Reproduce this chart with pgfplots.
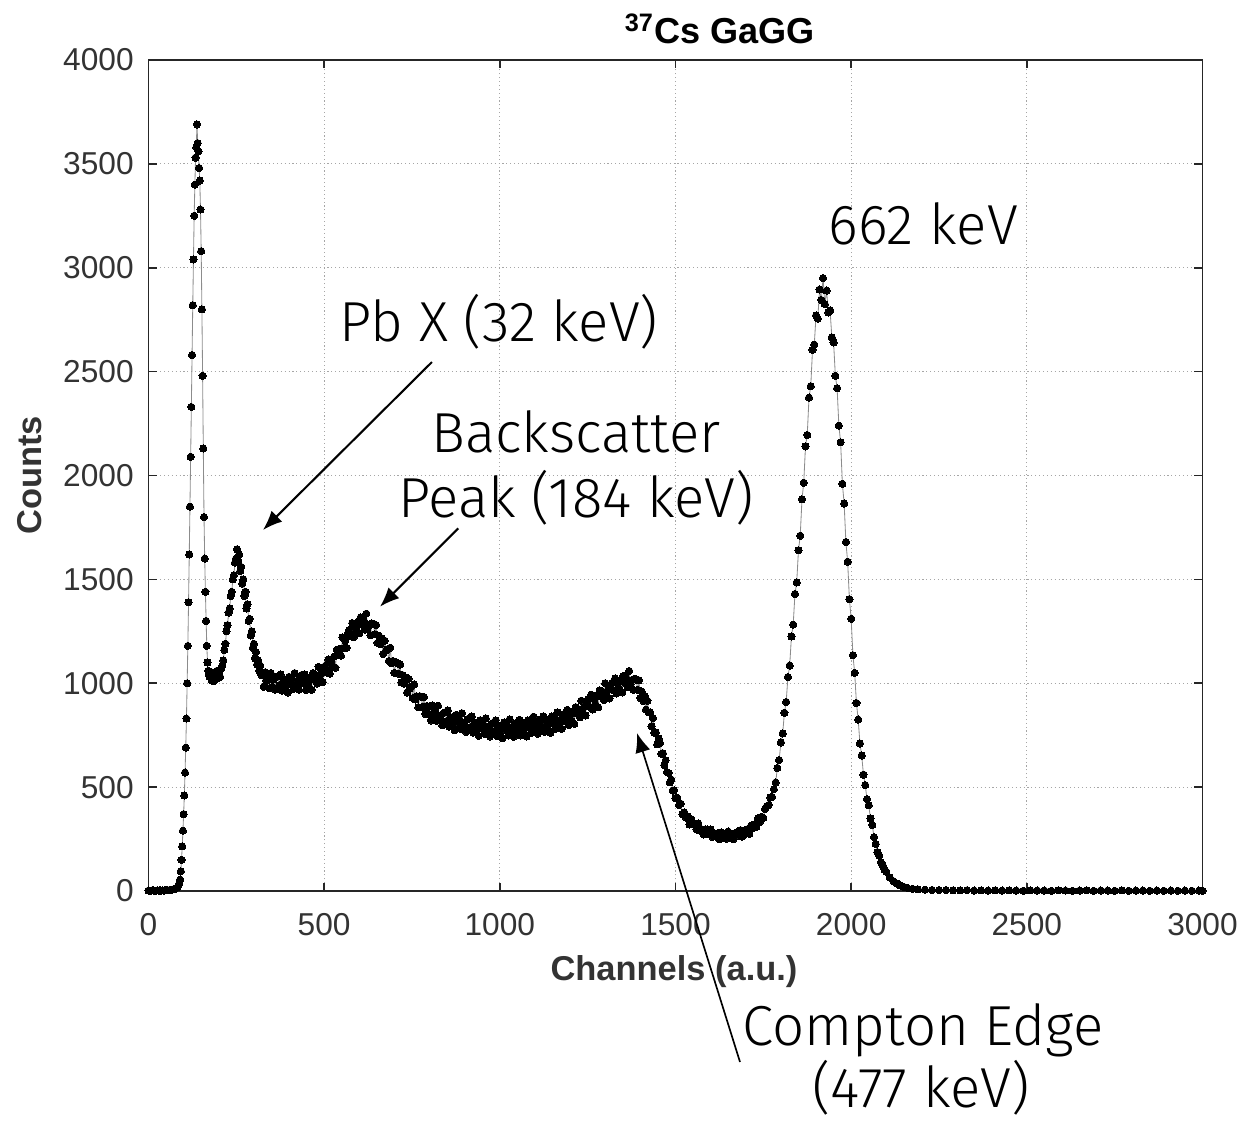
\documentclass[border=0pt]{standalone}
\usepackage{pgfplots}
\pgfplotsset{compat=1.18}
\usepackage{pgfplotstable}
\usepackage{fontspec}
\setmainfont{Liberation Sans}
\newfontfamily\annfont{Fira Sans Light}
\usetikzlibrary{arrows.meta}

\pgfplotstableread{
x y
0 2
5 1
10 3
15 2
20 1
25 3
30 2
35 2
40 3
45 2
50 4
55 3
60 5
65 6
70 8
75 10
80 15
84 22
87 35
90 55
92 95
94 150
96 215
98 290
100 370
102 460
104 570
106 690
108 830
110 1000
112 1180
114 1390
116 1620
118 1850
120 2090
122 2330
124 2580
126 2820
128 3040
130 3250
132 3400
134 3530
136 3580
138 3690
140 3600
142 3560
144 3480
146 3420
148 3280
150 3080
152 2800
154 2480
156 2130
158 1800
160 1600
162 1440
164 1300
166 1180
168 1100
170 1060
172 1040
174 1030
177 1055
180 1015
183 1045
186 1010
189 1040
192 1020
195 1060
198 1025
201 1050
204 1030
207 1070
210 1085
213 1110
216 1160
219 1190
222 1250
225 1280
228 1340
231 1360
234 1420
237 1440
240 1500
243 1520
246 1580
249 1600
252 1645
255 1590
258 1620
261 1540
264 1560
267 1480
270 1500
273 1420
276 1440
279 1360
282 1380
285 1300
288 1310
291 1230
294 1250
297 1170
300 1190
303 1120
306 1150
309 1090
312 1110
315 1060
318 1085
321 1040
324 1052
328 983
332 1053
336 1011
340 1024
344 976
348 1049
352 983
356 1018
360 970
364 1030
368 1033
372 990
376 1042
380 964
384 1009
388 978
392 1018
396 955
400 1031
404 996
408 1016
412 972
416 1049
420 987
424 1012
428 969
432 1033
436 1040
440 1001
444 1042
448 968
452 1015
456 986
460 1028
464 969
468 1049
472 1017
476 1040
480 999
484 1079
488 1020
492 1047
496 1006
500 1072
504 1085
508 1052
512 1114
516 1046
520 1099
524 1078
528 1128
532 1075
536 1161
540 1135
544 1166
548 1133
552 1221
556 1170
560 1205
564 1170
568 1242
572 1257
576 1226
580 1290
584 1221
588 1273
592 1249
596 1296
600 1240
604 1317
608 1282
612 1302
616 1258
620 1335
624 1266
628 1283
632 1232
636 1288
640 1287
644 1236
648 1280
652 1194
656 1229
660 1188
664 1216
668 1141
672 1205
676 1157
680 1164
684 1107
688 1171
692 1096
696 1107
700 1050
704 1102
708 1097
712 1046
716 1090
720 1004
724 1039
728 998
732 1028
736 955
740 1021
744 975
748 984
752 929
756 995
760 922
764 937
768 884
772 938
776 935
780 886
784 934
788 852
792 891
796 854
800 888
804 821
808 893
812 853
816 868
820 819
824 892
828 826
832 846
836 798
840 857
844 860
848 817
852 869
856 791
860 834
864 801
868 839
872 774
876 848
880 810
884 828
888 781
892 856
896 791
900 813
904 766
908 827
912 830
916 788
920 840
924 762
928 806
932 773
936 812
940 747
944 822
948 785
952 802
956 756
960 831
964 767
968 789
972 744
976 805
980 809
984 768
988 821
992 745
996 789
1000 758
1004 798
1008 735
1012 811
1016 775
1020 794
1024 749
1028 826
1032 763
1036 787
1040 742
1044 805
1048 810
1052 770
1056 824
1060 749
1064 795
1068 765
1072 806
1076 744
1080 821
1084 786
1088 806
1092 762
1096 839
1100 777
1104 801
1108 757
1112 820
1116 826
1120 786
1124 841
1128 766
1132 813
1136 783
1140 824
1144 762
1148 840
1152 805
1156 826
1160 782
1164 860
1168 799
1172 824
1176 781
1180 845
1184 853
1188 815
1192 872
1196 799
1200 847
1204 820
1208 864
1212 805
1216 885
1220 853
1224 876
1228 836
1232 916
1236 858
1240 885
1244 845
1248 912
1252 922
1256 886
1260 945
1264 874
1268 924
1272 898
1276 943
1280 885
1284 966
1288 935
1292 959
1296 919
1300 1000
1304 941
1308 968
1312 927
1316 993
1320 1002
1324 965
1328 1023
1332 951
1336 1000
1340 973
1344 1016
1348 956
1352 1035
1356 1002
1360 1024
1364 981
1368 1059
1372 995
1376 1016
1380 968
1384 1022
1388 1018
1392 968
1396 1014
1400 929
1404 960
1408 915
1412 939
1416 873
1420 916
1424 860
1428 859
1432 793
1436 832
1440 762
1444 763
1448 706
1452 734
1456 712
1460 660
1464 663
1468 606
1472 629
1476 572
1480 568
1484 523
1488 536
1492 483
1496 485
1500 447
1505 449
1510 414
1515 420
1520 369
1525 378
1530 353
1535 359
1540 320
1545 346
1550 323
1555 323
1560 296
1565 325
1570 292
1575 297
1580 272
1585 297
1590 296
1595 275
1600 296
1605 260
1610 278
1615 262
1620 278
1625 249
1630 282
1635 265
1640 272
1645 252
1650 286
1655 258
1660 268
1665 250
1670 279
1675 283
1680 266
1685 293
1690 262
1695 286
1700 275
1705 298
1710 275
1715 314
1720 303
1725 320
1730 308
1735 351
1740 332
1745 357
1750 352
1755 395
1760 408
1765 414
1770 450
1775 452
1780 490
1785 522
1790 592
1795 630
1800 715
1805 758
1810 858
1815 910
1820 1030
1825 1085
1830 1225
1835 1282
1840 1430
1845 1485
1850 1640
1855 1710
1860 1885
1865 1965
1870 2140
1875 2195
1880 2375
1885 2430
1890 2605
1895 2630
1900 2770
1905 2755
1910 2895
1915 2845
1920 2950
1925 2825
1930 2890
1935 2785
1940 2795
1945 2665
1950 2640
1955 2480
1960 2420
1965 2240
1970 2160
1975 1960
1980 1865
1985 1680
1990 1585
1995 1405
2000 1310
2005 1135
2010 1050
2015 905
2020 825
2025 710
2030 652
2035 560
2040 510
2045 442
2050 413
2055 349
2060 318
2065 259
2070 226
2075 187
2080 170
2085 138
2090 124
2095 102
2100 93
2110 65
2120 48
2130 36
2140 27
2150 20
2160 15
2175 10
2190 8
2210 6
2230 5
2250 4
2270 4
2290 3
2310 3
2330 4
2350 2
2370 3
2390 2
2410 3
2430 2
2450 3
2470 2
2490 1
2510 3
2530 2
2550 2
2570 1
2590 3
2610 2
2630 1
2650 2
2670 3
2690 1
2710 2
2730 2
2750 1
2770 3
2790 1
2810 2
2830 2
2850 1
2870 2
2890 1
2910 2
2930 1
2950 2
2970 1
2990 2
3000 1
}\spec

\begin{document}
\begin{tikzpicture}
\useasboundingbox (-53.46pt,-82.8pt) rectangle (393.3pt,320.76pt);
\begin{axis}[
  at={(0,0)}, anchor=south west,
  width=379.44pt, height=299.16pt, scale only axis,
  xmin=0, xmax=3000, ymin=0, ymax=4000,
  xtick={0,500,...,3000}, ytick={0,500,...,4000},
  scaled ticks=false,
  /pgf/number format/1000 sep={},
  /pgf/number format/assume math mode=true,
  tick label style={font=\fontsize{11.4}{13}\selectfont, text=black!80},
  xticklabel style={yshift=-4.5pt},
  yticklabel style={xshift=-1.8pt},
  tick align=inside, tick pos=both,
  major tick length=2.9pt,
  axis line style={black!85, line width=0.6pt},
  every tick/.style={black!85, line width=0.6pt},
  grid=major, grid style={densely dotted, black!35, line width=0.4pt},
  xlabel={Channels (a.u.)}, ylabel={Counts},
  label style={font=\bfseries\fontsize{12.4}{14}\selectfont, text=black!80},
  xlabel style={at={(axis description cs:0.4986,-0.0975)}, anchor=center},
  ylabel style={at={(axis description cs:-0.1124,0.5)}, anchor=center},
  clip=false,
]
\addplot[draw=black!45, line width=0.3pt, mark=*, mark size=1.3pt,
  mark options={draw=black, fill=black, line width=0pt}] table {\spec};

\node[anchor=base west, font=\bfseries\fontsize{13}{15}\selectfont]
  at (axis description cs:0.4426,1.0193) {\textsuperscript{37}Cs GaGG};

\node[anchor=base, font=\annfont\fontsize{20.3}{23}\selectfont] at (axis cs:2205,3110) {662 keV};
\node[anchor=base, font=\annfont\fontsize{20.3}{23}\selectfont] at (axis cs:997.6,2642.6) {Pb X (32 keV)};
\node[anchor=base, font=\annfont\fontsize{20.3}{23}\selectfont] at (axis cs:1216.8,2108.3) {Backscatter};
\node[anchor=base, font=\annfont\fontsize{20.3}{23}\selectfont] at (axis cs:1216.8,1800.2) {Peak (184 keV)};
\node[anchor=base, font=\annfont\fontsize{20.3}{23}\selectfont] at (axis cs:2204.5,-741.3) {Compton Edge};
\node[anchor=base, font=\annfont\fontsize{20.3}{23}\selectfont] at (axis cs:2198.8,-1044.5) {(477 keV)};

\draw[line width=0.75pt, -{Latex[length=7pt,width=5.5pt]}] (axis cs:806.9,2546.3) -- (axis cs:325.9,1737.7);
\draw[line width=0.75pt, -{Latex[length=7pt,width=5.5pt]}] (axis cs:881.8,1745.8) -- (axis cs:658.9,1368.5);
\draw[line width=0.6pt, -{Latex[length=7pt,width=5.5pt]}] (axis cs:1683.6,-823.1) -- (axis cs:1390.4,760.5);
\end{axis}
\end{tikzpicture}
\end{document}
